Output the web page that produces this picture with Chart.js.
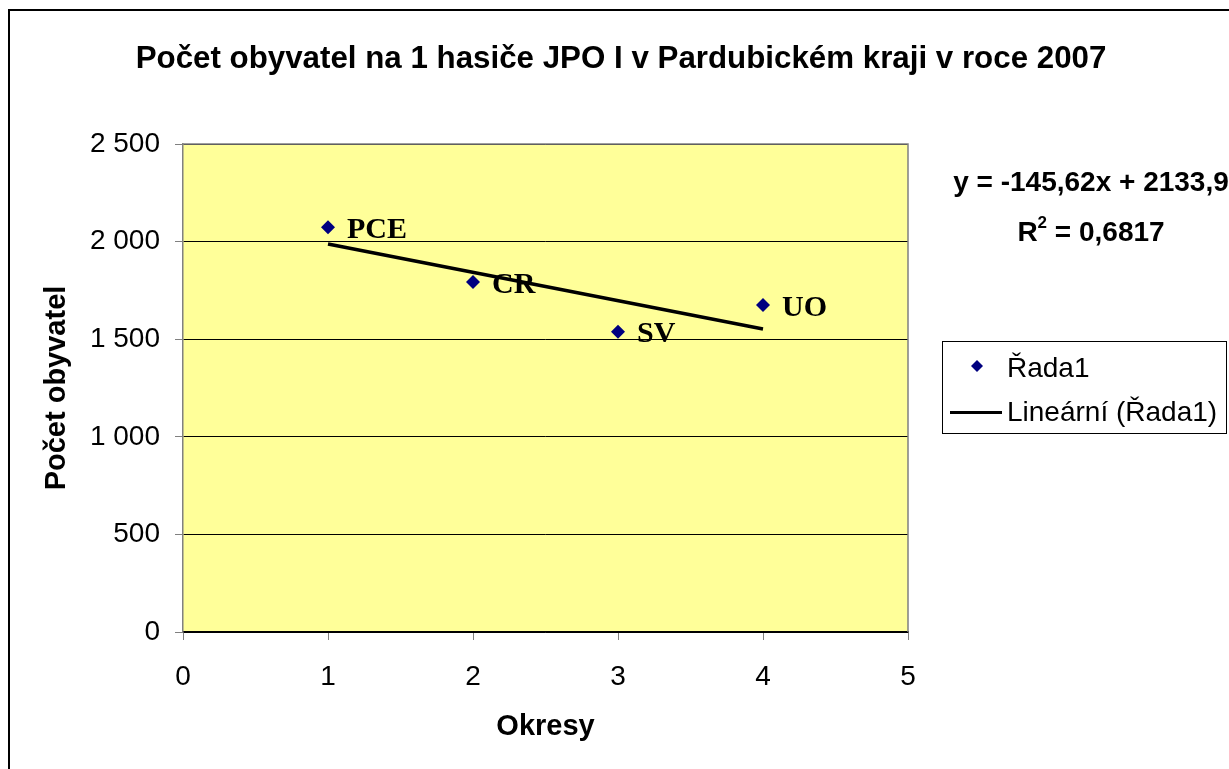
<!DOCTYPE html>
<html>
<head>
<meta charset="utf-8">
<script src="https://cdn.jsdelivr.net/npm/chart.js@4.4.1/dist/chart.umd.min.js"></script>
<style>
  html, body { margin: 0; padding: 0; background: #fff; }
  #wrap { width: 1229px; height: 769px; position: relative; }
</style>
</head>
<body>
<div id="wrap"><canvas id="chart" width="1229" height="769"></canvas></div>
<script>
/* data */
const okresX      = [1, 2, 3, 4];
const okresNames  = ['PCE', 'CR', 'SV', 'UO'];
const obyvatelY   = [2073, 1793, 1538, 1675];
const trendX      = [1, 4];
const trendY      = [1988, 1552];
const yTicks      = [0, 500, 1000, 1500, 2000, 2500];
const xTicks      = [0, 1, 2, 3, 4, 5];

const TITLE    = 'Počet obyvatel na 1 hasiče JPO I v Pardubickém kraji v roce 2007';
const EQ_LINE  = 'y = -145,62x + 2133,9';
const R2_VALUE = '0,6817';
const SERIES   = 'Řada1';
const TREND    = 'Lineární (Řada1)';

const SANS  = "'Liberation Sans', Arial, sans-serif";
const SERIF = "'Liberation Serif', 'Times New Roman', serif";
const NAVY  = '#000080';

const fmtThousands = v => String(v).replace(/\B(?=(\d{3})+(?!\d))/g, ' ');

/* plot background, frame, title, labels, equation and legend */
const decor = {
  id: 'decor',
  beforeDraw(chart) {
    const { ctx, chartArea: a } = chart;
    ctx.save();
    ctx.fillStyle = '#fff';
    ctx.fillRect(0, 0, chart.width, chart.height);
    ctx.fillStyle = '#FFFF99';
    ctx.fillRect(a.left, a.top, a.right - a.left, a.bottom - a.top);
    ctx.restore();
  },
  afterDraw(chart) {
    const { ctx, chartArea: a } = chart;
    ctx.save();
    // plot border (top / right)
    ctx.strokeStyle = '#808080';
    ctx.lineWidth = 1.5;
    ctx.beginPath();
    ctx.moveTo(a.left, a.top); ctx.lineTo(a.right, a.top); ctx.lineTo(a.right, a.bottom);
    ctx.stroke();

    // outer frame
    ctx.strokeStyle = '#000';
    ctx.lineWidth = 2;
    ctx.strokeRect(9, 10, chart.width + 20, chart.height + 20);

    // title
    ctx.fillStyle = '#000';
    ctx.font = 'bold 31.3px ' + SANS;
    ctx.textAlign = 'center';
    ctx.textBaseline = 'alphabetic';
    ctx.fillText(TITLE, 621, 68);

    // equation + R²
    ctx.font = 'bold 28px ' + SANS;
    ctx.fillText(EQ_LINE, 1091, 191);
    const rA = 'R', rB = ' = ' + R2_VALUE;
    const wA = ctx.measureText(rA).width, wB = ctx.measureText(rB).width;
    ctx.font = 'bold 17px ' + SANS;
    const wS = ctx.measureText('2').width;
    let x0 = 1091 - (wA + wS + wB) / 2;
    ctx.textAlign = 'left';
    ctx.font = 'bold 28px ' + SANS;
    ctx.fillText(rA, x0, 241);
    ctx.font = 'bold 17px ' + SANS;
    ctx.fillText('2', x0 + wA, 228);
    ctx.font = 'bold 28px ' + SANS;
    ctx.fillText(rB, x0 + wA + wS, 241);

    // legend box
    ctx.strokeStyle = '#000';
    ctx.lineWidth = 1;
    ctx.strokeRect(942.5, 341.5, 284, 92);
    ctx.fillStyle = NAVY;
    ctx.beginPath();
    ctx.moveTo(977, 360); ctx.lineTo(983, 366); ctx.lineTo(977, 372); ctx.lineTo(971, 366);
    ctx.closePath(); ctx.fill();
    ctx.strokeStyle = '#000';
    ctx.lineWidth = 3;
    ctx.beginPath(); ctx.moveTo(950, 412.5); ctx.lineTo(1002, 412.5); ctx.stroke();
    ctx.fillStyle = '#000';
    ctx.font = '28px ' + SANS;
    ctx.fillText(SERIES, 1007, 377);
    ctx.fillText(TREND, 1007, 421);

    // point labels
    const meta = chart.getDatasetMeta(0);
    ctx.font = 'bold 30px ' + SERIF;
    ctx.textAlign = 'left';
    meta.data.forEach((pt, i) => {
      ctx.fillText(okresNames[i], pt.x + 19, pt.y + 10.5);
    });
    ctx.restore();
  }
};

new Chart(document.getElementById('chart'), {
  type: 'scatter',
  data: {
    datasets: [
      {
        label: SERIES,
        data: okresX.map((x, i) => ({ x, y: obyvatelY[i] })),
        pointStyle: 'rectRot',
        pointRadius: 7,
        pointHoverRadius: 7,
        backgroundColor: NAVY,
        borderColor: NAVY,
        borderWidth: 0,
        order: 0,
      },
      {
        label: TREND,
        type: 'line',
        data: trendX.map((x, i) => ({ x, y: trendY[i] })),
        borderColor: '#000',
        borderWidth: 3.5,
        pointRadius: 0,
        fill: false,
        order: 1,
      },
    ],
  },
  options: {
    responsive: false,
    animation: false,
    events: [],
    layout: { padding: { left: 0, top: 144, right: 321, bottom: 0 } },
    plugins: {
      legend: { display: false },
      title: { display: false },
      tooltip: { enabled: false },
    },
    scales: {
      x: {
        type: 'linear',
        min: 0, max: 5,
        afterBuildTicks: s => { s.ticks = xTicks.map(v => ({ value: v })); },
        afterFit: s => { s.height = 137; },
        ticks: { color: '#000', font: { family: SANS, size: 28 }, padding: 20, maxRotation: 0 },
        grid: { drawOnChartArea: false, drawTicks: true, tickLength: 8, tickColor: '#808080' },
        border: { color: '#000', width: 1.5 },
        title: {
          display: true, text: 'Okresy', color: '#000',
          font: { family: SANS, size: 29, weight: 'bold' },
          padding: { top: 0, bottom: 25 },
        },
      },
      y: {
        type: 'linear',
        min: 0, max: 2500,
        afterBuildTicks: s => { s.ticks = yTicks.map(v => ({ value: v })); },
        afterFit: s => { s.width = 183; },
        ticks: { color: '#000', font: { family: SANS, size: 28 }, padding: 15, callback: v => fmtThousands(v) },
        grid: { color: '#000', lineWidth: 1, drawTicks: true, tickLength: 8, tickColor: '#808080' },
        border: { color: '#808080', width: 1.5 },
        title: {
          display: true, text: 'Počet obyvatel', color: '#000',
          font: { family: SANS, size: 29, weight: 'bold' },
          padding: { top: 40, bottom: 0 },
        },
      },
    },
  },
  plugins: [decor],
});
</script>
</body>
</html>
